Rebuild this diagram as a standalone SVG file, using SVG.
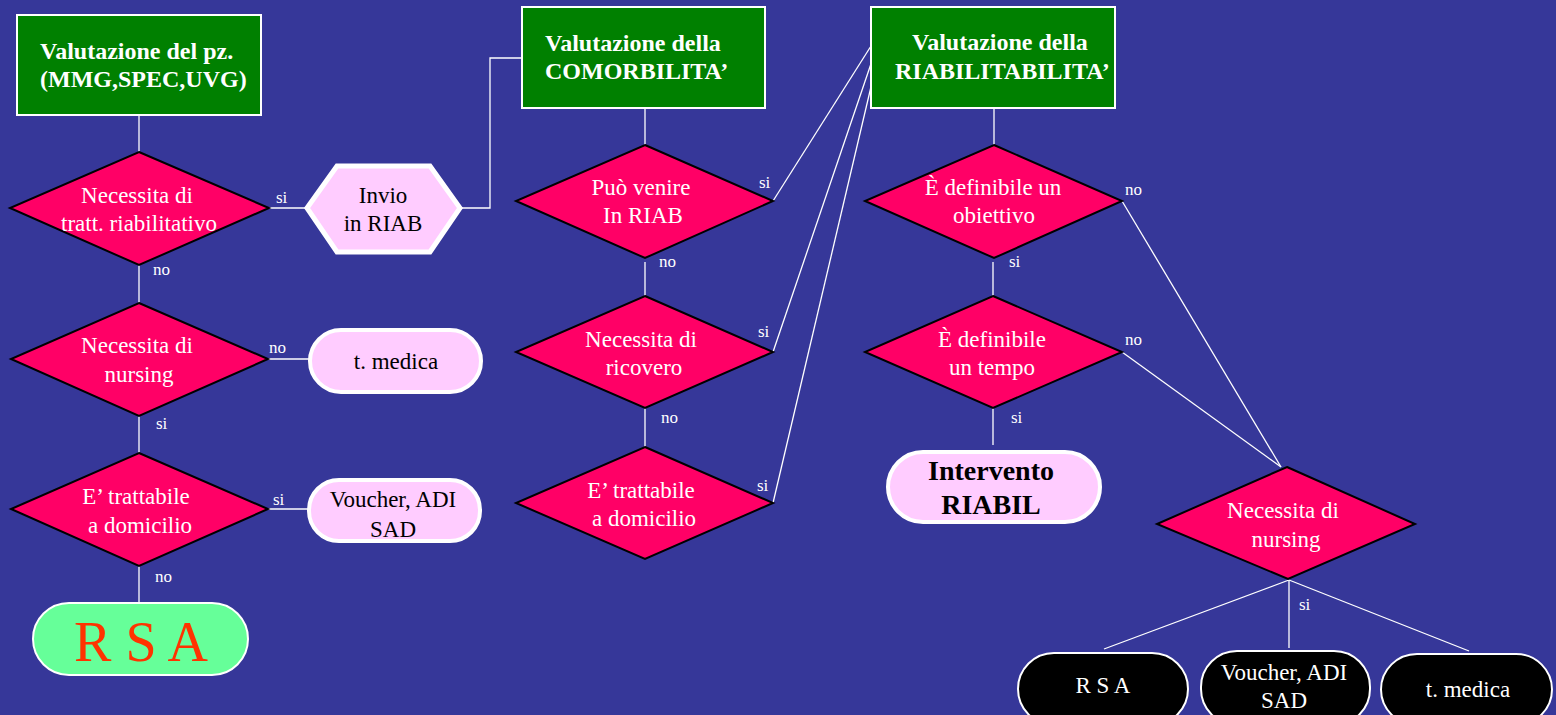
<svg xmlns="http://www.w3.org/2000/svg" width="1556" height="715" viewBox="0 0 1556 715">
<style>
.bg{fill:#363799}
.hdr{fill:#008000;stroke:#fff;stroke-width:2}
.hdrt{fill:#fff;font-weight:bold;font-size:24px}
.dia{fill:#ff0066;stroke:#000;stroke-width:2}
.dt{fill:#fff;font-size:23px;text-anchor:middle}
.pk{fill:#ffccff;stroke:#fff;stroke-width:4}
.pt{fill:#000;font-size:23px;text-anchor:middle}
.bk{fill:#000;stroke:#fff;stroke-width:2}
.bt{fill:#fff;font-size:23px;text-anchor:middle}
.lbl{fill:#fff;font-size:17px}
.con{stroke:#fff;stroke-width:1.3;fill:none}
</style>
<rect class="bg" x="0" y="0" width="1556" height="715"/>

<g id="connectors">
<line class="con" x1="139" y1="115" x2="139" y2="152"/>
<line class="con" x1="269" y1="208" x2="306" y2="208"/>
<polyline class="con" points="462,208 490,208 490,58 522,58"/>
<line class="con" x1="139" y1="265" x2="139" y2="303"/>
<line class="con" x1="268" y1="359" x2="310" y2="359"/>
<line class="con" x1="139" y1="416" x2="139" y2="453"/>
<line class="con" x1="268" y1="509" x2="309" y2="509"/>
<line class="con" x1="139" y1="566" x2="139" y2="603"/>
<line class="con" x1="645" y1="108" x2="645" y2="145"/>
<line class="con" x1="645" y1="262" x2="645" y2="296"/>
<line class="con" x1="645" y1="408" x2="645" y2="447"/>
<line class="con" x1="773" y1="201" x2="871" y2="46"/>
<line class="con" x1="773" y1="352" x2="875" y2="52"/>
<line class="con" x1="773" y1="503" x2="878" y2="57"/>
<line class="con" x1="994" y1="108" x2="994" y2="145"/>
<line class="con" x1="993" y1="262" x2="993" y2="296"/>
<line class="con" x1="993" y1="408" x2="993" y2="445"/>
<line class="con" x1="1122" y1="201" x2="1281" y2="467"/>
<line class="con" x1="1122" y1="352" x2="1281" y2="467"/>
<line class="con" x1="1289" y1="580" x2="1104" y2="649"/>
<line class="con" x1="1289" y1="580" x2="1289" y2="648"/>
<line class="con" x1="1289" y1="580" x2="1469" y2="651"/>
</g>

<g id="labels">
<text font-family="Liberation Serif" class="lbl" x="276" y="203">si</text>
<text font-family="Liberation Serif" class="lbl" x="153" y="275">no</text>
<text font-family="Liberation Serif" class="lbl" x="269" y="353">no</text>
<text font-family="Liberation Serif" class="lbl" x="156" y="429">si</text>
<text font-family="Liberation Serif" class="lbl" x="273" y="505">si</text>
<text font-family="Liberation Serif" class="lbl" x="155" y="582">no</text>
<text font-family="Liberation Serif" class="lbl" x="759" y="188">si</text>
<text font-family="Liberation Serif" class="lbl" x="659" y="267">no</text>
<text font-family="Liberation Serif" class="lbl" x="758" y="337">si</text>
<text font-family="Liberation Serif" class="lbl" x="661" y="423">no</text>
<text font-family="Liberation Serif" class="lbl" x="757" y="491">si</text>
<text font-family="Liberation Serif" class="lbl" x="1125" y="195">no</text>
<text font-family="Liberation Serif" class="lbl" x="1009" y="267">si</text>
<text font-family="Liberation Serif" class="lbl" x="1125" y="345">no</text>
<text font-family="Liberation Serif" class="lbl" x="1011" y="423">si</text>
<text font-family="Liberation Serif" class="lbl" x="1299" y="610">si</text>
</g>

<g id="box-pz">
<rect class="hdr" x="17" y="15" width="244" height="100"/>
<text font-family="Liberation Serif" class="hdrt" x="40" y="59">Valutazione del pz.</text>
<text font-family="Liberation Serif" class="hdrt" x="40" y="87">(MMG,SPEC,UVG)</text>
</g>

<g id="box-comorbilita">
<rect class="hdr" x="522" y="7" width="243" height="101"/>
<text font-family="Liberation Serif" class="hdrt" x="545" y="51">Valutazione della</text>
<text font-family="Liberation Serif" class="hdrt" x="545" y="79">COMORBILITA’</text>
</g>

<g id="box-riabilitabilita">
<rect class="hdr" x="871" y="7" width="244" height="101"/>
<text font-family="Liberation Serif" class="hdrt" x="912" y="50">Valutazione della</text>
<text font-family="Liberation Serif" class="hdrt" x="895" y="79">RIABILITABILITA’</text>
</g>

<g id="d-tratt">
<polygon class="dia" points="139,152 269,208 139,265 10,208"/>
<text font-family="Liberation Serif" class="dt" x="137" y="203">Necessita di</text>
<text font-family="Liberation Serif" class="dt" x="139" y="231">tratt. riabilitativo</text>
</g>

<g id="invio-riab">
<polygon points="307,208 337,166 430,166 460,208 430,252 337,252" fill="#ffccff" stroke="#fff" stroke-width="5"/>
<text font-family="Liberation Serif" class="pt" x="383" y="203">Invio</text>
<text font-family="Liberation Serif" class="pt" x="383" y="231">in RIAB</text>
</g>

<g id="d-nursing1">
<polygon class="dia" points="139,303 268,359 139,416 11,359"/>
<text font-family="Liberation Serif" class="dt" x="137" y="353">Necessita di</text>
<text font-family="Liberation Serif" class="dt" x="139" y="382">nursing</text>
</g>

<g id="tmedica1">
<rect class="pk" x="310" y="330" width="171" height="62" rx="31"/>
<text font-family="Liberation Serif" class="pt" x="396" y="369">t. medica</text>
</g>

<g id="d-domicilio1">
<polygon class="dia" points="139,453 268,509 139,566 11,509"/>
<text font-family="Liberation Serif" class="dt" x="136" y="504">E’ trattabile</text>
<text font-family="Liberation Serif" class="dt" x="140" y="533">a domicilio</text>
</g>

<g id="voucher1">
<rect class="pk" x="309" y="480" width="171" height="61" rx="30"/>
<text font-family="Liberation Serif" class="pt" x="393" y="507">Voucher, ADI</text>
<text font-family="Liberation Serif" class="pt" x="393" y="537">SAD</text>
</g>

<g id="rsa1">
<rect x="33" y="603" width="215" height="72" rx="36" fill="#66ff99" stroke="#fff" stroke-width="2"/>
<text font-family="Liberation Serif" x="141" y="661" font-size="56" fill="#ff3300" text-anchor="middle">R S A</text>
</g>

<g id="d-puovenire">
<polygon class="dia" points="645,145 773,201 645,258 516,201"/>
<text font-family="Liberation Serif" class="dt" x="641" y="195">Può venire</text>
<text font-family="Liberation Serif" class="dt" x="643" y="223">In RIAB</text>
</g>

<g id="d-ricovero">
<polygon class="dia" points="645,296 773,352 645,408 516,352"/>
<text font-family="Liberation Serif" class="dt" x="641" y="347">Necessita di</text>
<text font-family="Liberation Serif" class="dt" x="644" y="375">ricovero</text>
</g>

<g id="d-domicilio2">
<polygon class="dia" points="645,447 773,503 645,559 516,503"/>
<text font-family="Liberation Serif" class="dt" x="641" y="498">E’ trattabile</text>
<text font-family="Liberation Serif" class="dt" x="644" y="526">a domicilio</text>
</g>

<g id="d-obiettivo">
<polygon class="dia" points="994,145 1122,201 994,258 865,201"/>
<text font-family="Liberation Serif" class="dt" x="993" y="195">È definibile un</text>
<text font-family="Liberation Serif" class="dt" x="994" y="223">obiettivo</text>
</g>

<g id="d-tempo">
<polygon class="dia" points="993,296 1122,352 993,408 865,352"/>
<text font-family="Liberation Serif" class="dt" x="992" y="347">È definibile</text>
<text font-family="Liberation Serif" class="dt" x="992" y="375">un tempo</text>
</g>

<g id="intervento">
<rect class="pk" x="888" y="452" width="212" height="70" rx="35"/>
<text font-family="Liberation Serif" x="991" y="480" font-size="28" font-weight="bold" text-anchor="middle" fill="#000">Intervento</text>
<text font-family="Liberation Serif" x="991" y="514" font-size="28" font-weight="bold" text-anchor="middle" fill="#000">RIABIL</text>
</g>

<g id="d-nursing2">
<polygon class="dia" points="1287,467 1415,524 1288,579 1157,524"/>
<text font-family="Liberation Serif" class="dt" x="1283" y="518">Necessita di</text>
<text font-family="Liberation Serif" class="dt" x="1286" y="547">nursing</text>
</g>

<g id="rsa2">
<rect class="bk" x="1018" y="653" width="170" height="72" rx="36"/>
<text font-family="Liberation Serif" class="bt" x="1103" y="693">R S A</text>
</g>

<g id="voucher2">
<rect class="bk" x="1201" y="651" width="169" height="74" rx="36"/>
<text font-family="Liberation Serif" class="bt" x="1284" y="680">Voucher, ADI</text>
<text font-family="Liberation Serif" class="bt" x="1284" y="708">SAD</text>
</g>

<g id="tmedica2">
<rect class="bk" x="1381" y="654" width="171" height="71" rx="36"/>
<text font-family="Liberation Serif" class="bt" x="1468" y="697">t. medica</text>
</g>
</svg>
